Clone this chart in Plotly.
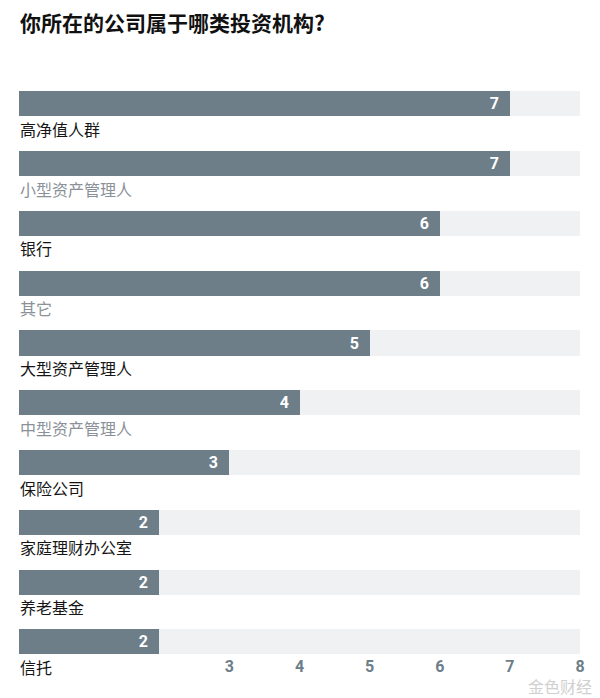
import plotly.graph_objects as go

categories = ["高净值人群", "小型资产管理人", "银行", "其它", "大型资产管理人",
              "中型资产管理人", "保险公司", "家庭理财办公室", "养老基金", "信托"]
values = [7, 7, 6, 6, 5, 4, 3, 2, 2, 2]
max_value = 8
tick_vals = [3, 4, 5, 6, 7, 8]
label_colors = ["#151515", "#8a9198", "#151515", "#8a9198", "#151515",
                "#8a9198", "#151515", "#151515", "#151515", "#151515"]

BAR = "#6d7e89"
TRACK = "#f0f1f3"
CJK = "Noto Sans CJK SC"

ypos = list(range(len(categories)))

fig = go.Figure()
fig.add_trace(go.Bar(
    x=[max_value] * len(categories), y=ypos, orientation="h",
    marker=dict(color=TRACK, line=dict(width=0)), width=0.42,
    hoverinfo="skip", showlegend=False,
))
fig.add_trace(go.Bar(
    x=values, y=ypos, orientation="h",
    marker=dict(color=BAR, line=dict(width=0)), width=0.42,
    texttemplate="%{x}\u00a0\u00a0", textposition="inside",
    insidetextanchor="end",
    textfont=dict(family="Roboto", size=16, color="white", weight="bold"),
    customdata=categories,
    hovertemplate="%{customdata}: %{x}<extra></extra>",
    showlegend=False,
))

for i, (c, col) in enumerate(zip(categories, label_colors)):
    fig.add_annotation(
        x=0, y=i, xref="x", yref="y", text=c, showarrow=False,
        xanchor="left", yanchor="middle", yshift=-25, xshift=-1,
        font=dict(family=CJK, size=16, color=col),
    )

fig.update_layout(
    width=592, height=690,
    margin=dict(l=11, r=20, t=66, b=43, autoexpand=False),
    paper_bgcolor="white", plot_bgcolor="white",
    barmode="overlay", bargap=0,
    title=dict(text="你所在的公司属于哪类投资机构?", x=12 / 592, xanchor="left",
               y=1 - 16 / 690, yanchor="middle",
               font=dict(family=CJK, size=21, color="#111111", weight="bold")),
    xaxis=dict(range=[0, max_value], tickvals=tick_vals,
               ticktext=[str(t) for t in tick_vals],
               showgrid=False, zeroline=False, showline=False, ticks="",
               ticklabelstandoff=0,
               tickfont=dict(family="Roboto", size=16, color="#6d7e89", weight="bold"),
               fixedrange=True, automargin=False),
    yaxis=dict(range=[9.22, -0.5], showticklabels=False, showgrid=False,
               zeroline=False, showline=False, ticks="", fixedrange=True,
               automargin=False),
    uniformtext=dict(mode="show", minsize=10),
)

fig.add_annotation(
    x=1.0, y=0.0, xref="paper", yref="paper", text="金色财经", showarrow=False,
    xanchor="right", yanchor="middle", yshift=-31, xshift=14,
    font=dict(family=CJK, size=16, color="#d0d0d0"),
)

fig.write_html("out.html")
